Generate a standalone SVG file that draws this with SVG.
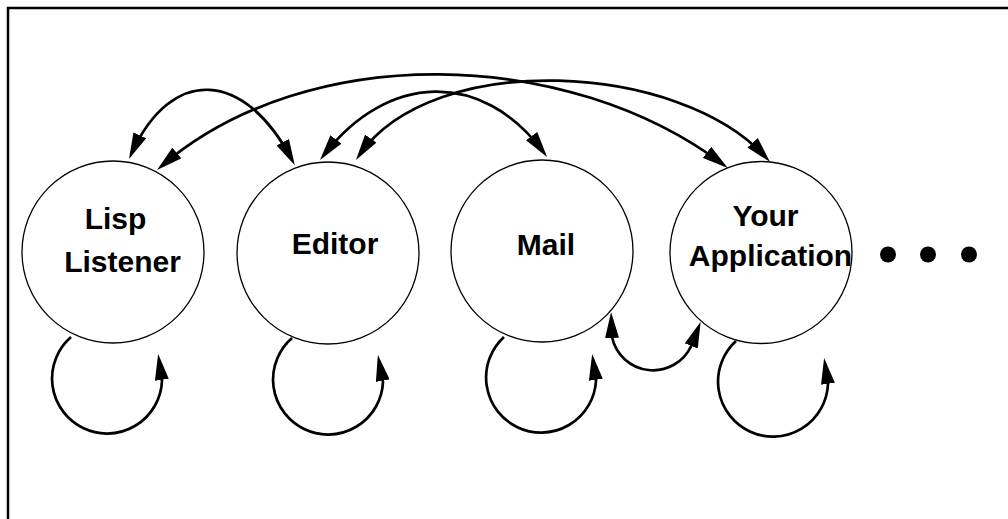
<svg xmlns="http://www.w3.org/2000/svg" width="1008" height="519" viewBox="0 0 1008 519">
<style>
.node{fill:#fff;stroke:#000;stroke-width:1.3}
.lbl{font-family:"Liberation Sans",Arial,sans-serif;font-weight:bold;font-size:30px;fill:#000;text-anchor:middle}
.edge{fill:none;stroke:#000;stroke-width:2.7}
.two{marker-start:url(#ah);marker-end:url(#ah)}
.one{marker-end:url(#ah)}
</style>
<defs>
<marker id="ah" viewBox="0 0 26 14" refX="20" refY="7" markerWidth="26" markerHeight="14" markerUnits="userSpaceOnUse" orient="auto-start-reverse">
<path d="M0,0 L26,7 L0,14 z" fill="#000"/>
</marker>
</defs>
<rect width="1008" height="519" fill="#fff"/>
<rect x="8" y="8" width="1012" height="530" fill="none" stroke="#000" stroke-width="2.5"/>
<g id="lisp-listener">
<circle class="node" cx="113" cy="252" r="91"/>
<text class="lbl" x="115.5" y="229">Lisp</text>
<text class="lbl" x="122.5" y="272">Listener</text>
</g>
<g id="editor">
<circle class="node" cx="328" cy="253" r="91"/>
<text class="lbl" x="335" y="254">Editor</text>
</g>
<g id="mail">
<circle class="node" cx="542" cy="251" r="91"/>
<text class="lbl" x="546" y="255">Mail</text>
</g>
<g id="your-application">
<circle class="node" cx="761" cy="252.5" r="91"/>
<text class="lbl" x="765.5" y="226">Your</text>
<text class="lbl" x="770.5" y="266">Application</text>
</g>
<g id="more">
<circle cx="888" cy="254.5" r="8"/>
<circle cx="928" cy="254.5" r="8"/>
<circle cx="969" cy="254.5" r="8"/>
</g>
<g id="connectors">
<path class="edge two" d="M131.5,153.5 C172,65 245,70 292,160"/>
<path class="edge two" d="M161.6,166 C309,40 568,48 723,164.4"/>
<path class="edge two" d="M323.7,155.3 C387,73 482,69 543.5,152.2"/>
<path class="edge two" d="M359.4,155 C433,49 680,62 766,157.6"/>
<path class="edge one" d="M71,337 A55,55 0 1 0 162,381 L159,360"/>
<path class="edge one" d="M292,338 A55,55 0 1 0 383,382 L379,361"/>
<path class="edge one" d="M504,337 A55,55 0 1 0 596,381 L593,360"/>
<path class="edge one" d="M736,341 A55,55 0 1 0 828,384 L825,364"/>
<path class="edge two" d="M611.3,318 L612,337 A42,42 0 0 0 691.3,345.7 L698.5,327.3"/>
</g>
</svg>
